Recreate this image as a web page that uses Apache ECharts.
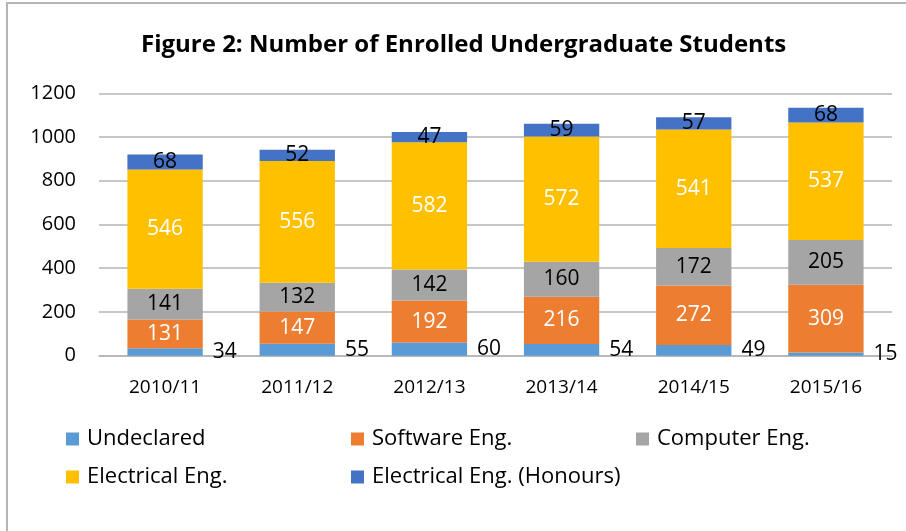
<!DOCTYPE html>
<html><head><meta charset="utf-8">
<script src="https://cdn.jsdelivr.net/npm/echarts@6/dist/echarts.min.js"></script>
<style>html,body{margin:0;padding:0;background:#fff}#c{width:906px;height:531px}</style>
</head><body><div id="c"></div>
<script>
const categories = ['2010/11','2011/12','2012/13','2013/14','2014/15','2015/16'];
const undeclared = [34, 55, 60, 54, 49, 15];
const softwareEng = [131, 147, 192, 216, 272, 309];
const computerEng = [141, 132, 142, 160, 172, 205];
const electricalEng = [546, 556, 582, 572, 541, 537];
const electricalHonours = [68, 52, 47, 59, 57, 68];
const yTicks = [0, 200, 400, 600, 800, 1000, 1200];
const seriesNames = ['Undeclared','Software Eng.','Computer Eng.','Electrical Eng.','Electrical Eng. (Honours)'];
const colors = ['#5B9BD5','#ED7D31','#A5A5A5','#FFC000','#4472C4'];

const FONT = 'Open Sans';
const chart = echarts.init(document.getElementById('c'), null, {renderer:'canvas'});
const values = [undeclared, softwareEng, computerEng, electricalEng, electricalHonours];
const labelColors = ['#000','#fff','#000','#fff','#000'];

const series = values.map((v, i) => ({
  name: seriesNames[i],
  type: 'bar',
  stack: 'total',
  data: v,
  barWidth: '57%',
  itemStyle: {color: colors[i]},
  label: {
    show: true,
    position: i === 0 ? 'right' : 'inside',
    distance: 10,
    color: labelColors[i],
    fontFamily: FONT,
    fontSize: 21
  }
}));

const legendPos = [[66,428],[351,428],[636,428],[66,466],[351,466]];
const legends = seriesNames.map((n, i) => ({
  data: [n],
  left: legendPos[i][0],
  top: legendPos[i][1],
  padding: 0,
  itemWidth: 13,
  itemHeight: 13,
  itemGap: 0,
  icon: 'rect',
  textStyle: {fontFamily: FONT, fontSize: 22, color: '#000', padding: [0,0,0,3]}
}));

chart.setOption({
  animation: false,
  title: {
    text: 'Figure 2: Number of Enrolled Undergraduate Students',
    left: 136,
    top: 28,
    textStyle: {fontFamily: FONT, fontSize: 24, fontWeight: 'bold', color: '#000'}
  },
  graphic: [{
    type: 'rect',
    shape: {x: 7, y: 3, width: 1000, height: 1000},
    style: {fill: 'none', stroke: '#B5B5B5', lineWidth: 2},
    silent: true
  }],
  legend: legends,
  grid: {left: 99, right: 14, top: 93.3, bottom: 175.3, containLabel: false},
  xAxis: {
    type: 'category',
    data: categories,
    axisTick: {show: false},
    axisLine: {lineStyle: {color: '#B5B5B5', width: 1.5}},
    axisLabel: {fontFamily: FONT, fontSize: 19, color: '#000', margin: 22}
  },
  yAxis: {
    type: 'value',
    min: yTicks[0],
    max: yTicks[yTicks.length-1],
    interval: 200,
    axisLine: {show: false},
    axisTick: {show: false},
    splitLine: {lineStyle: {color: '#B5B5B5', width: 1.5}},
    axisLabel: {fontFamily: FONT, fontSize: 20, color: '#000', margin: 23, formatter: v => String(v)}
  },
  series: series
});
</script></body></html>
